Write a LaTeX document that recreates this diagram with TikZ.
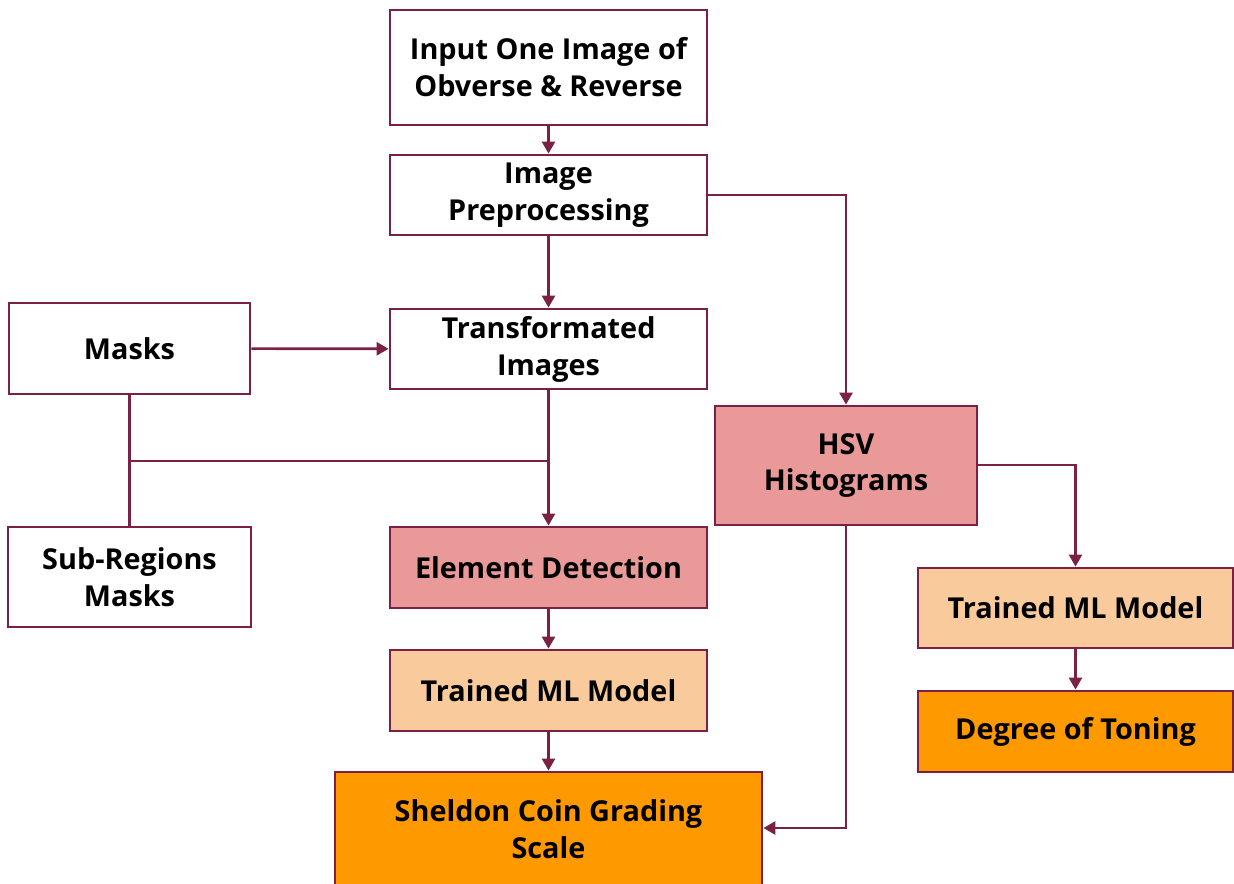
\documentclass[tikz,border=0pt]{standalone}
\usepackage{fontspec}
\setmainfont{Open Sans}
\usetikzlibrary{positioning,arrows.meta}
\definecolor{wine}{HTML}{7A2145}
\definecolor{rosefill}{HTML}{EA9999}
\definecolor{peachfill}{HTML}{F9CB9C}
\definecolor{orangefill}{HTML}{FF9900}

\begin{document}
\begin{tikzpicture}[
    x=0.02cm, y=-0.02cm,
    every node/.style={font=\fontsize{16.4}{21}\selectfont\bfseries},
    boxStyle/.style={draw=wine, line width=1.6pt, align=center, inner sep=0pt},
    plainBox/.style={boxStyle, fill=white},
    roseBox/.style={boxStyle, fill=rosefill},
    peachBox/.style={boxStyle, fill=peachfill},
    orangeBox/.style={boxStyle, fill=orangefill},
    flowArrow/.style={-{Triangle[length=0.24cm, width=0.26cm]}, line width=1.5pt, draw=wine},
    flowLine/.style={line width=1.5pt, draw=wine}
]
    \useasboundingbox (0,0) rectangle (1234,883);

    % Colonna centrale
    \node[plainBox, minimum width=6.34cm, minimum height=2.3cm] (input) at (548.5,67.5) {Input One Image of\\Obverse \& Reverse};
    \node[plainBox, minimum width=6.34cm, minimum height=1.6cm] (prep) at (548.5,195) {Image\\Preprocessing};
    \node[plainBox, minimum width=6.34cm, minimum height=1.6cm] (trans) at (548.5,349) {Transformated\\Images};
    \node[roseBox, minimum width=6.34cm, minimum height=1.62cm] (elem) at (548.5,567.5) {Element Detection};
    \node[peachBox, minimum width=6.34cm, minimum height=1.62cm] (trainedA) at (548.5,690.5) {Trained ML Model};
    \node[orangeBox, minimum width=8.54cm, minimum height=2.3cm] (grading) at (548.5,829.5) {Sheldon Coin Grading\\Scale};

    % Colonna sinistra
    \node[plainBox, minimum width=4.82cm, minimum height=1.82cm] (masks) at (129.5,348.5) {Masks};
    \node[plainBox, minimum width=4.86cm, minimum height=2.0cm] (subMasks) at (129.5,577) {Sub-Regions\\Masks};

    % Colonna destra
    \node[roseBox, minimum width=5.24cm, minimum height=2.38cm] (hsv) at (846,465.5) {HSV\\Histograms};
    \node[peachBox, minimum width=6.3cm, minimum height=1.6cm] (trainedB) at (1075.5,608) {Trained ML Model};
    \node[orangeBox, minimum width=6.3cm, minimum height=1.62cm] (toning) at (1075.5,731.5) {Degree of Toning};

    % Giunzione maschere
    \coordinate (joinL) at (129.5,461);
    \coordinate (joinR) at (548.5,461);
    \coordinate (prepTurn) at (846,195);
    \coordinate (hsvTurn) at (1075.5,465);
    \coordinate (gradeTurn) at (846,828);

    % Connettori
    \draw[flowArrow] (input) -- (prep);
    \draw[flowArrow] (prep) -- (trans);
    \draw[flowArrow] (masks) -- (trans);
    \draw[flowLine] (masks) -- (subMasks);
    \draw[flowLine] (joinL) -- (joinR);
    \draw[flowArrow] (trans) -- (elem);
    \draw[flowArrow] (elem) -- (trainedA);
    \draw[flowArrow] (trainedA) -- (grading);
    \draw[flowArrow] (prep.east |- prepTurn) -- (prepTurn) -- (hsv);
    \draw[flowArrow] (hsv.east |- hsvTurn) -- (hsvTurn) -- (trainedB);
    \draw[flowArrow] (trainedB) -- (toning);
    \draw[flowArrow] (hsv.south -| gradeTurn) -- (gradeTurn) -- (grading.east |- gradeTurn);
\end{tikzpicture}
\end{document}
